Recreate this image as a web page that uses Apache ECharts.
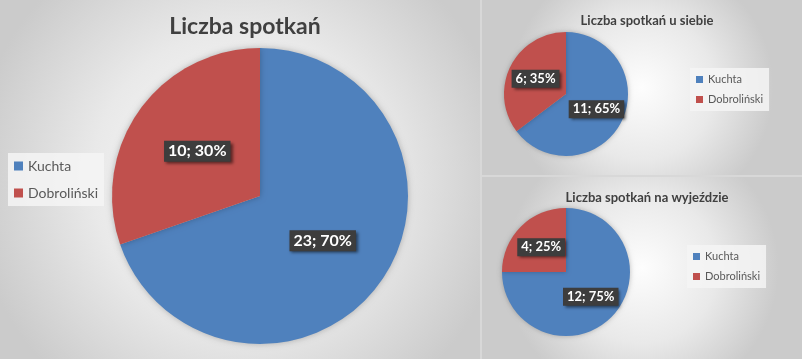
<!DOCTYPE html>
<html lang="pl">
<head>
<meta charset="UTF-8">
<title>Liczba spotkań</title>
<style>
  * { margin: 0; padding: 0; }
  body { background: #d8d8d8; }
  #chart { width: 802px; height: 359px; }
</style>
<script src="https://cdn.jsdelivr.net/npm/echarts@6/dist/echarts.min.js"></script>
</head>
<body>
<div id="chart"></div>
<script>
  // dane
  var players = ['Kuchta', 'Dobroliński'];
  var allGames = [23, 10];
  var homeGames = [11, 6];
  var awayGames = [12, 4];
  var titles = ['Liczba spotkań', 'Liczba spotkań u siebie', 'Liczba spotkań na wyjeździe'];
  var colors = ['#4f81bd', '#c0504d'];

  var font = 'Lato, "Noto Sans", sans-serif';

  function toData(vals) {
    return players.map(function (p, i) { return { name: p, value: vals[i] }; });
  }

  function panelBg(x, y, w, h) {
    return {
      type: 'rect',
      shape: { x: x, y: y, width: w, height: h },
      style: {
        fill: new echarts.graphic.RadialGradient(0.5, 0.5, 0.75, [
          { offset: 0, color: '#fdfdfd' },
          { offset: 0.55, color: '#e9e9e9' },
          { offset: 1, color: '#cbcbcb' }
        ])
      },
      silent: true,
      z: -10
    };
  }

  function labelStyle(size) {
    return {
      show: true,
      position: 'inside',
      formatter: '{c}; {d}%',
      color: '#ffffff',
      fontWeight: 'bold',
      fontFamily: font,
      fontSize: size,
      backgroundColor: '#3d3d3d',
      padding: size > 14 ? [3, 4, 2, 4] : [3, 4, 2, 4],
      shadowBlur: 3,
      shadowColor: 'rgba(0,0,0,0.55)',
      shadowOffsetX: 2,
      shadowOffsetY: 2
    };
  }

  function legendAt(left, top, gap, size) {
    return {
      orient: 'vertical',
      left: left,
      top: top,
      data: players,
      icon: 'rect',
      itemWidth: size > 12 ? 9 : 7,
      itemHeight: size > 12 ? 9 : 7,
      itemGap: gap,
      itemTextGap: 3,
      padding: [6, 6, 6, 6],
      backgroundColor: 'rgba(245,245,245,0.85)',
      textStyle: { color: '#595959', fontSize: size, fontFamily: font },
      selectedMode: false
    };
  }

  var chart = echarts.init(document.getElementById('chart'));
  chart.setOption({
    color: colors,
    animation: false,
    graphic: [
      panelBg(0, 0, 480, 359),
      panelBg(482, 0, 320, 175),
      panelBg(482, 177, 320, 182)
    ],
    title: [
      { text: titles[0], left: 240, top: 10, textAlign: 'center',
        textStyle: { fontSize: 23, fontWeight: 'bold', color: '#404040', fontFamily: font } },
      { text: titles[1], left: 642, top: 9, textAlign: 'center',
        textStyle: { fontSize: 13, fontWeight: 'bold', color: '#404040', fontFamily: font } },
      { text: titles[2], left: 642, top: 186, textAlign: 'center',
        textStyle: { fontSize: 13, fontWeight: 'bold', color: '#404040', fontFamily: font } }
    ],
    legend: [
      legendAt(8, 153, 13, 14),
      legendAt(690, 68, 9, 11),
      legendAt(687, 245, 9, 11)
    ],
    series: [
      {
        type: 'pie', center: [260, 196], radius: 148, startAngle: 90,
        percentPrecision: 0, silent: true,
        label: labelStyle(16), labelLine: { show: false },
        itemStyle: { shadowBlur: 6, shadowColor: 'rgba(0,0,0,0.25)' },
        data: toData(allGames)
      },
      {
        type: 'pie', center: [566, 94], radius: 62, startAngle: 90,
        percentPrecision: 0, silent: true,
        label: labelStyle(13), labelLine: { show: false },
        itemStyle: { shadowBlur: 5, shadowColor: 'rgba(0,0,0,0.25)' },
        data: toData(homeGames)
      },
      {
        type: 'pie', center: [566, 272], radius: 64, startAngle: 90,
        percentPrecision: 0, silent: true,
        label: labelStyle(13), labelLine: { show: false },
        itemStyle: { shadowBlur: 5, shadowColor: 'rgba(0,0,0,0.25)' },
        data: toData(awayGames)
      }
    ]
  });
</script>
</body>
</html>
